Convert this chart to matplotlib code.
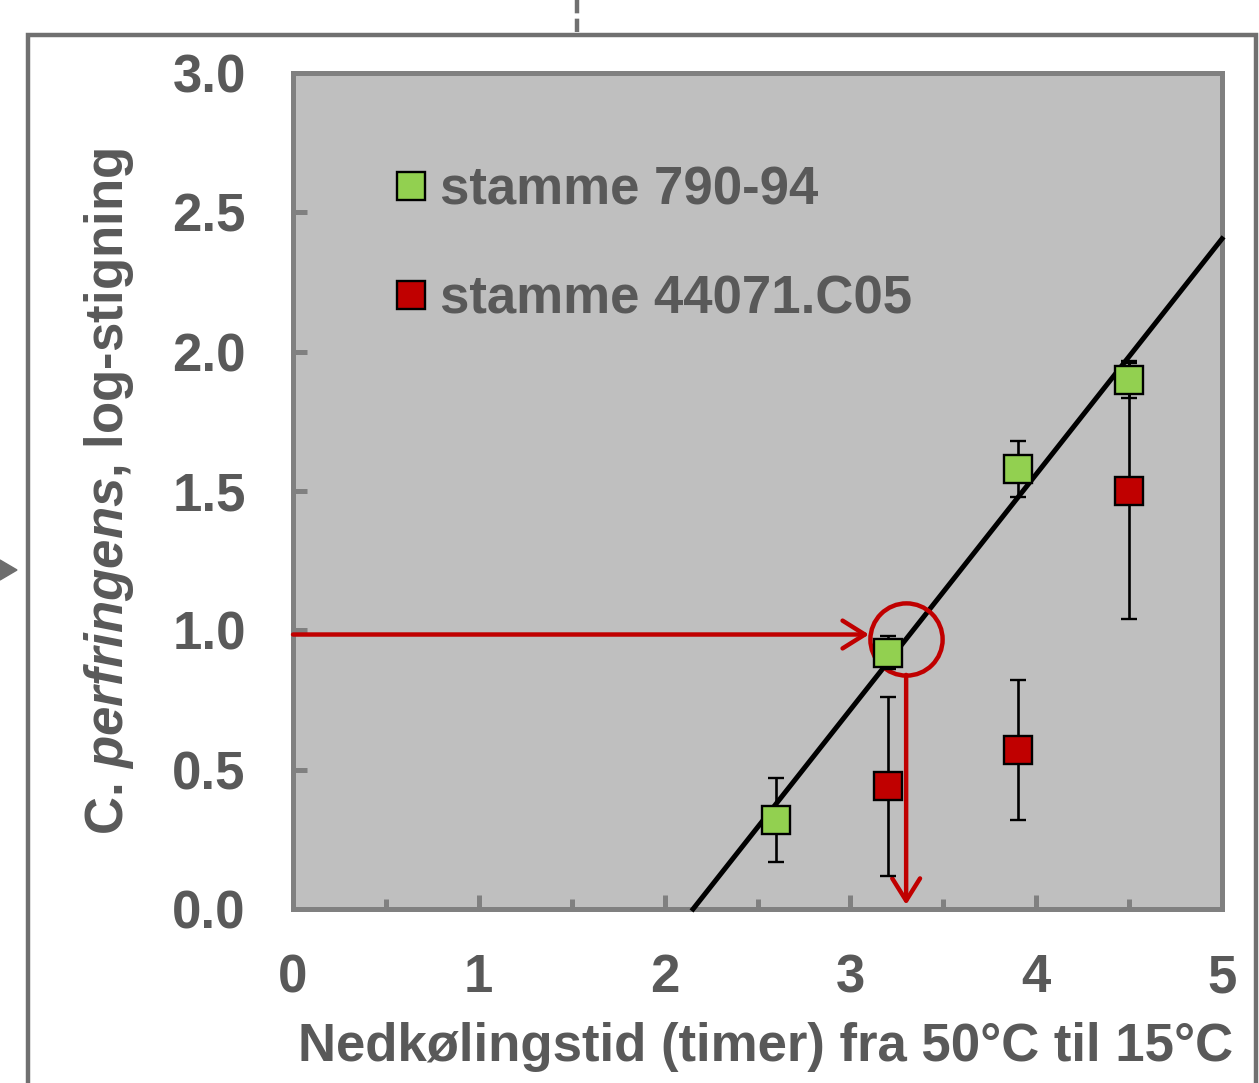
import numpy as np
import matplotlib
matplotlib.use("Agg")
import matplotlib.pyplot as plt
from matplotlib.lines import Line2D
from matplotlib.patches import Polygon

plt.rcParams['font.family'] = ['Liberation Sans', 'DejaVu Sans']
plt.rcParams['font.weight'] = 'bold'
plt.rcParams['mathtext.fontset'] = 'custom'
plt.rcParams['mathtext.it'] = 'Liberation Sans:italic:bold'
plt.rcParams['mathtext.rm'] = 'Liberation Sans:bold'

# ---- data ----
green_label = "stamme 790-94"
green_x = [2.6, 3.2, 3.9, 4.5]
green_y = [0.32, 0.92, 1.58, 1.90]
green_err = [0.15, 0.06, 0.10, 0.065]

red_label = "stamme 44071.C05"
red_x = [3.2, 3.9, 4.5]
red_y = [0.44, 0.57, 1.50]
red_err = [0.32, 0.25, 0.46]

target_y = 0.985      # read-off level
target_x = 3.30       # resulting cooling time

x_ticks = [0, 1, 2, 3, 4, 5]
y_ticks = [0.0, 0.5, 1.0, 1.5, 2.0, 2.5, 3.0]
y_ticklabels = ["0.0", "0.5", "1.0", "1.5", "2.0", "2.5", "3.0"]

xlabel = "Nedkølingstid (timer) fra 50°C til 15°C"
ylabel = r"C. $\mathit{perfringens}$, log-stigning"

GREEN = "#92D050"
RED = "#C00000"
TXT = "#595959"
SPINE = "#808080"
FS = 38

W, H = 1259, 1083
fig = plt.figure(figsize=(W / 100, H / 100), dpi=100)
fig.patch.set_facecolor("white")

# outer frame decorations (figure coords)
def fx(p): return p / W
def fy(p): return 1 - p / H
frame_c = "#707070"
fig.add_artist(Line2D([fx(28), fx(28), fx(1256), fx(1256)],
                      [fy(1083), fy(35), fy(35), fy(1083)],
                      color=frame_c, lw=3.2, transform=fig.transFigure,
                      solid_joinstyle='miter'))
fig.add_artist(Line2D([fx(577), fx(577)], [fy(0), fy(35)], color=frame_c, lw=3.2,
                      linestyle=(0, (3, 1.2)), transform=fig.transFigure))
fig.add_artist(Polygon([[fx(0), fy(560)], [fx(17), fy(570)], [fx(0), fy(580)]],
                       closed=True, color="#6d6d6d", transform=fig.transFigure))

ax = fig.add_axes([293 / W, 1 - 909 / H, (1222 - 293) / W, (909 - 73) / H])
ax.set_facecolor("#BFBFBF")
ax.set_xlim(0, 5)
ax.set_ylim(0, 3)

for s in ax.spines.values():
    s.set_color(SPINE)
    s.set_linewidth(3.6)

ax.set_xticks(x_ticks)
ax.set_xticks(np.arange(0.5, 5, 1.0), minor=True)
ax.set_yticks(y_ticks)
ax.set_yticklabels(y_ticklabels)
ax.tick_params(axis='both', which='major', direction='in', color=SPINE,
               width=3.6, length=10, labelsize=FS, labelcolor=TXT)
ax.tick_params(axis='x', which='major', pad=32)
ax.tick_params(axis='y', which='major', pad=34)
ax.tick_params(axis='x', which='minor', direction='in', color=SPINE,
               width=3.6, length=7)
for lab in ax.get_xticklabels() + ax.get_yticklabels():
    lab.set_fontweight('bold')

# regression line fitted to strain 790-94
slope, intercept = np.polyfit(green_x, green_y, 1)
x0 = -intercept / slope
xx = np.array([x0, 5.0])
ax.plot(xx, slope * xx + intercept, color="black", lw=3.6, zorder=3, clip_on=False)

# red read-off arrows and circle
arrow_kw = dict(arrowstyle="->,head_length=0.8,head_width=0.5",
                color=RED, lw=3.2, shrinkA=0, shrinkB=0, mutation_scale=20)
ax.annotate("", xy=(target_x - 0.2, target_y), xytext=(0, target_y),
            arrowprops=arrow_kw, zorder=4)
ax.plot([target_x], [target_y - 0.015], marker='o', markersize=52,
        markerfacecolor='none', markeredgecolor=RED, markeredgewidth=3.2, zorder=4)
ax.annotate("", xy=(target_x, 0.015), xytext=(target_x, target_y - 0.145),
            arrowprops=arrow_kw, zorder=4)

# data points
ekw = dict(fmt='s', color='black', ecolor='black', elinewidth=1.9, capsize=6,
           capthick=1.9, markersize=19.5, markeredgecolor='black',
           markeredgewidth=1.7)
ax.errorbar(red_x, red_y, yerr=red_err, markerfacecolor=RED, zorder=5, **ekw)
ax.errorbar(green_x, green_y, yerr=green_err, markerfacecolor=GREEN, zorder=6, **ekw)

# legend
h1 = Line2D([], [], marker='s', linestyle='none', markersize=20,
            markerfacecolor=GREEN, markeredgecolor='black', markeredgewidth=1.7)
h2 = Line2D([], [], marker='s', linestyle='none', markersize=20,
            markerfacecolor=RED, markeredgecolor='black', markeredgewidth=1.7)
leg = ax.legend([h1, h2], [green_label, red_label], loc='upper left',
                bbox_to_anchor=(0.087, 0.915), frameon=False,
                prop={'size': FS, 'weight': 'bold'}, labelspacing=1.12,
                handlelength=0.6, handletextpad=0.25, borderaxespad=0)
for t in leg.get_texts():
    t.set_color(TXT)

ax.set_xlabel(xlabel, fontsize=FS, color=TXT, fontweight='bold')
ax.xaxis.set_label_coords((766 - 293) / 929, -0.135)
ax.set_ylabel(ylabel, fontsize=FS, color=TXT, fontweight='bold', labelpad=26)

fig.savefig("out.png", dpi=100, facecolor="white")
